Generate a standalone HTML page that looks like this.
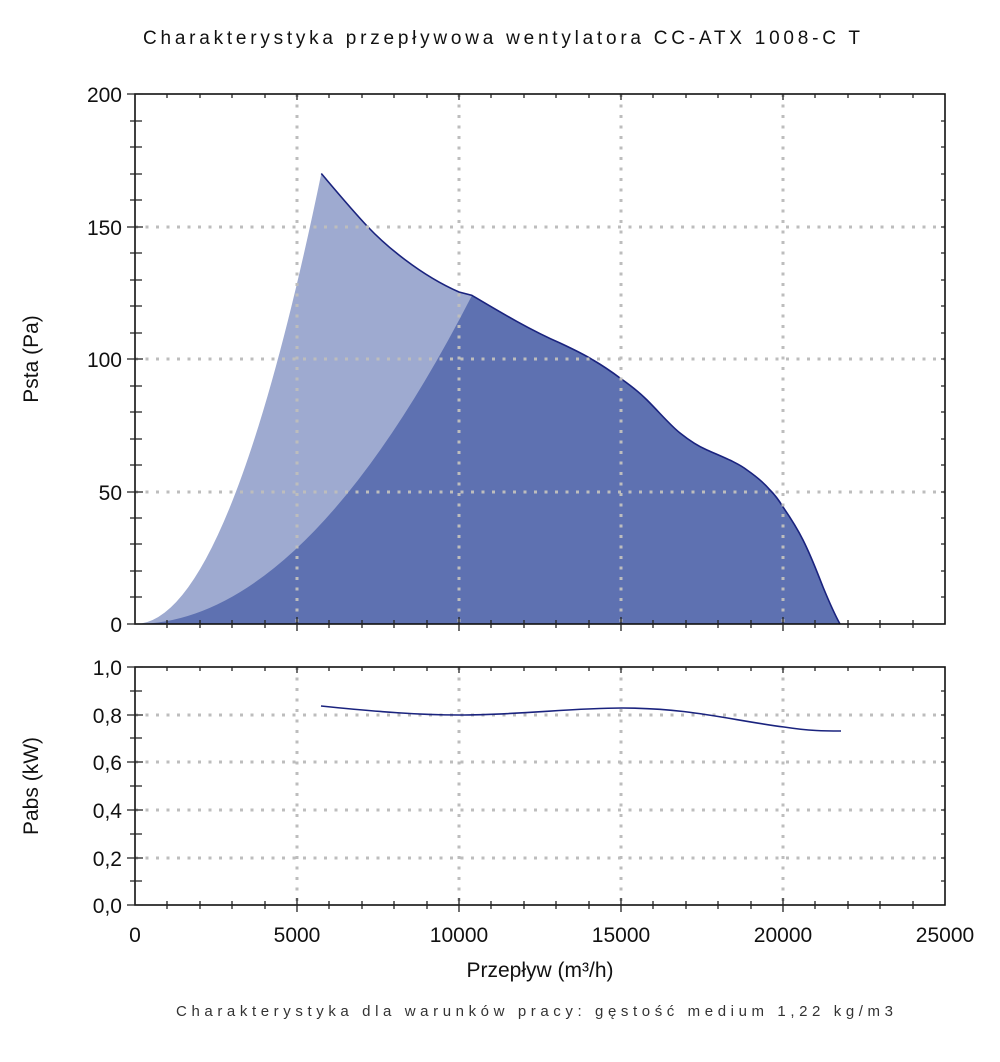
<!DOCTYPE html>
<html><head><meta charset="utf-8"><style>body{margin:0;background:#fff}svg{display:block}</style></head>
<body>
<svg width="1000" height="1062" viewBox="0 0 1000 1062" xmlns="http://www.w3.org/2000/svg" font-family="Liberation Sans, DejaVu Sans, sans-serif">
<rect width="1000" height="1062" fill="#fff"/>
<text x="143" y="44" font-size="19" textLength="717" lengthAdjust="spacing" fill="#111">Charakterystyka przepływowa wentylatora CC-ATX 1008-C T</text>

<!-- light fill -->
<path d="M135,624 Q228.2,624 321.3,173.5 C337,192 352,210 368,227 C385,245 420,275 459,292 L472,295 L472,624 Z" fill="#9eaad0"/>
<!-- dark fill -->
<path d="M135,624 Q303.5,624 472,295.4 C500,312 530,330 560,343 C575,350 585,355 593,360 C605,367 612,372 620,378 C630,385 640,393 647,400 C660,413 670,425 680,433 C690,441 700,447 707,450 C725,458 738,463 747,470 C757,477 765,484 770,490 C776,496 780,502 783,507 C792,520 798,530 803,540 C812,558 817,572 823,587 C830,604 835,615 840,624 Z" fill="#5e71b1"/>
<!-- fan curve -->
<path d="M321.3,173.5 C337,192 352,210 368,227 C385,245 420,275 459,292 L472,295.4 C500,312 530,330 560,343 C575,350 585,355 593,360 C605,367 612,372 620,378 C630,385 640,393 647,400 C660,413 670,425 680,433 C690,441 700,447 707,450 C725,458 738,463 747,470 C757,477 765,484 770,490 C776,496 780,502 783,507 C792,520 798,530 803,540 C812,558 817,572 823,587 C830,604 835,615 840,624" fill="none" stroke="#1a237e" stroke-width="1.6"/>

<!-- grids -->
<g stroke="#bdbdbd" stroke-width="3" stroke-dasharray="3 7.5">
<path d="M297,94V624M459,94V624M621,94V624M783,94V624"/>
<path d="M135,227H945M135,359H945M135,492H945"/>
<path d="M297,667V905M459,667V905M621,667V905M783,667V905"/>
<path d="M135,715H945M135,762H945M135,810H945M135,858H945"/>
</g>

<!-- power curve -->
<path d="M321,706 C380,712 420,715 459,715 C520,715 570,708 622,708 C690,708 730,720 784,727 C810,731 825,731 841,731" fill="none" stroke="#1a237e" stroke-width="1.6"/>

<!-- frames -->
<g fill="none" stroke="#111" stroke-width="1.6">
<rect x="135" y="94" width="810" height="530"/>
<rect x="135" y="667" width="810" height="238"/>
</g>
<g stroke="#222" stroke-width="1.3">
<path d="
M167,620V628M200,620V628M232,620V628M265,620V628M329,620V628M362,620V628M394,620V628M427,620V628M491,620V628M524,620V628M556,620V628M589,620V628M653,620V628M686,620V628M718,620V628M751,620V628M815,620V628M848,620V628M880,620V628M913,620V628
M297,617V631M459,617V631M621,617V631M783,617V631
M167,901V909M200,901V909M232,901V909M265,901V909M329,901V909M362,901V909M394,901V909M427,901V909M491,901V909M524,901V909M556,901V909M589,901V909M653,901V909M686,901V909M718,901V909M751,901V909M815,901V909M848,901V909M880,901V909M913,901V909
M297,898V912M459,898V912M621,898V912M783,898V912
M167,94V98M200,94V98M232,94V98M265,94V98M297,94V100M329,94V98M362,94V98M394,94V98M427,94V98M459,94V100M491,94V98M524,94V98M556,94V98M589,94V98M621,94V100M653,94V98M686,94V98M718,94V98M751,94V98M783,94V100M815,94V98M848,94V98M880,94V98M913,94V98
M167,667V671M200,667V671M232,667V671M265,667V671M297,667V673M329,667V671M362,667V671M394,667V671M427,667V671M459,667V673M491,667V671M524,667V671M556,667V671M589,667V671M621,667V673M653,667V671M686,667V671M718,667V671M751,667V671M783,667V673M815,667V671M848,667V671M880,667V671M913,667V671
M130,597H142M130,571H142M130,544H142M130,518H142M130,465H142M130,439H142M130,412H142M130,386H142M130,333H142M130,306H142M130,280H142M130,253H142M130,200H142M130,174H142M130,147H142M130,121H142
M127,624H143M127,492H143M127,359H143M127,227H143M127,94H143
M941,597H945M941,571H945M941,544H945M941,518H945M941,492H945M941,465H945M941,439H945M941,412H945M941,386H945M941,359H945M941,333H945M941,306H945M941,280H945M941,253H945M941,227H945M941,200H945M941,174H945M941,147H945M941,121H945
M130,881H142M130,834H142M130,786H142M130,738H142M130,691H142
M127,905H143M127,858H143M127,810H143M127,762H143M127,715H143M127,667H143
M941,881H945M941,858H945M941,834H945M941,810H945M941,786H945M941,762H945M941,738H945M941,715H945M941,691H945
"/>
</g>

<g font-size="21" fill="#111" text-anchor="end">
<text x="122" y="102">200</text>
<text x="122" y="235">150</text>
<text x="122" y="367">100</text>
<text x="122" y="500">50</text>
<text x="122" y="632">0</text>
<text x="122" y="675">1,0</text>
<text x="122" y="723">0,8</text>
<text x="122" y="770">0,6</text>
<text x="122" y="818">0,4</text>
<text x="122" y="866">0,2</text>
<text x="122" y="913">0,0</text>
</g>
<g font-size="21" fill="#111" text-anchor="middle">
<text x="135" y="942">0</text>
<text x="297" y="942">5000</text>
<text x="459" y="942">10000</text>
<text x="621" y="942">15000</text>
<text x="783" y="942">20000</text>
<text x="945" y="942">25000</text>
<text x="540" y="977">Przepływ (m³/h)</text>
<text transform="translate(38,359) rotate(-90)">Psta (Pa)</text>
<text transform="translate(38,786) rotate(-90)">Pabs (kW)</text>
</g>
<text x="176" y="1016" font-size="15" fill="#333" textLength="717" lengthAdjust="spacing">Charakterystyka dla warunków pracy: gęstość medium 1,22 kg/m3</text>
</svg>
</body></html>
